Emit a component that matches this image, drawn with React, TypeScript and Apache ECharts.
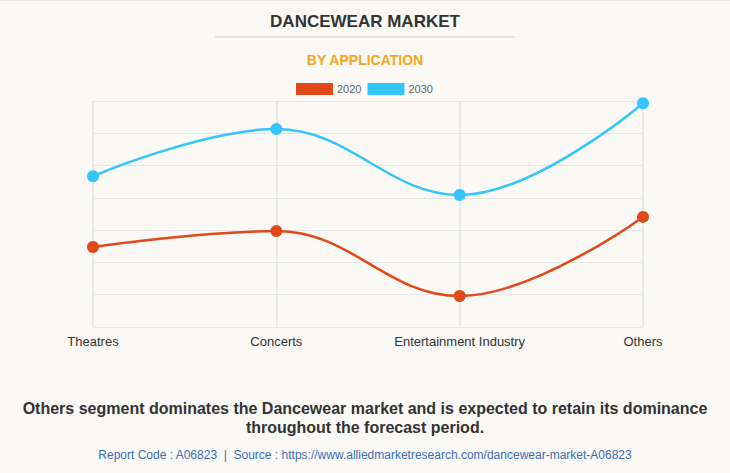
import React, { useEffect, useRef } from "react";
import * as echarts from "echarts";

const categories = ["Theatres", "Concerts", "Entertainment Industry", "Others"];
const values2020 = [2.48, 2.97, 0.96, 3.41];
const values2030 = [4.67, 6.13, 4.09, 6.93];
const seriesNames = ["2020", "2030"];
const colors = ["#e0491a", "#33c5fb"];

export default function App() {
  const ref = useRef<HTMLDivElement>(null);
  useEffect(() => {
    if (!ref.current) return;
    const chart = echarts.init(ref.current, null, { renderer: "svg" });
    chart.setOption({
      animation: false,
      backgroundColor: "#faf9f5",
      title: [
        {
          text: "DANCEWEAR MARKET",
          left: "center",
          top: 8,
          textStyle: { fontFamily: "Arial, Liberation Sans", fontSize: 17, fontWeight: "bold", color: "#333" },
        },
        {
          text: "BY APPLICATION",
          left: "center",
          top: 48,
          textStyle: { fontFamily: "Arial, Liberation Sans", fontSize: 14, fontWeight: "bold", color: "#f7a520" },
        },
        {
          text: "Report Code : A06823  |  Source : https://www.alliedmarketresearch.com/dancewear-market-A06823",
          left: "center",
          top: 444,
          textStyle: { fontFamily: "Arial, Liberation Sans", fontSize: 12, fontWeight: "normal", color: "#3a6db5" },
        },
      ],
      graphic: [
        { type: "line", shape: { x1: 215, y1: 37, x2: 515, y2: 37 }, style: { stroke: "#cccccc", lineWidth: 1 } },
        { type: "rect", shape: { x: 0, y: 0, width: 730, height: 1 }, style: { fill: "#e6e6e6" } },
        {
          type: "text",
          x: 365,
          y: 399,
          style: {
            text: "Others segment dominates the Dancewear market and is expected to retain its dominance\nthroughout the forecast period.",
            align: "center",
            verticalAlign: "top",
            fontFamily: "Arial, Liberation Sans",
            fontSize: 16,
            fontWeight: "bold",
            lineHeight: 19,
            fill: "#333",
          },
        },
      ],
      legend: {
        top: 78,
        left: 291,
        itemWidth: 37,
        itemHeight: 12,
        itemGap: 6,
        icon: "rect",
        data: seriesNames,
        textStyle: { fontFamily: "Arial, Liberation Sans", fontSize: 11, color: "#666", padding: [0, 0, 0, -1] },
      },
      grid: { left: 93, right: 87, top: 101, bottom: 146 },
      xAxis: {
        type: "category",
        data: categories,
        boundaryGap: false,
        axisLine: { show: false },
        axisTick: { show: false },
        axisLabel: { fontFamily: "Arial, Liberation Sans", fontSize: 13, color: "#333", margin: 8 },
        splitLine: { show: true, lineStyle: { color: "#e3e3e3", width: 1.5 } },
      },
      yAxis: {
        type: "value",
        min: 0,
        max: 7,
        interval: 1,
        axisLine: { show: false },
        axisTick: { show: false },
        axisLabel: { show: false },
        splitLine: { show: true, lineStyle: { color: "#e6e6e6", width: 1 } },
      },
      series: [
        {
          name: seriesNames[0],
          type: "line",
          smooth: 0.4,
          data: values2020,
          symbol: "circle",
          symbolSize: 12,
          itemStyle: { color: colors[0] },
          lineStyle: { color: colors[0], width: 2.5 },
        },
        {
          name: seriesNames[1],
          type: "line",
          smooth: 0.4,
          data: values2030,
          symbol: "circle",
          symbolSize: 12,
          itemStyle: { color: colors[1] },
          lineStyle: { color: colors[1], width: 2.5 },
        },
      ],
    });
    return () => chart.dispose();
  }, []);
  return <div ref={ref} style={{ width: 730, height: 473, position: "absolute", left: 0, top: 0 }} />;
}
